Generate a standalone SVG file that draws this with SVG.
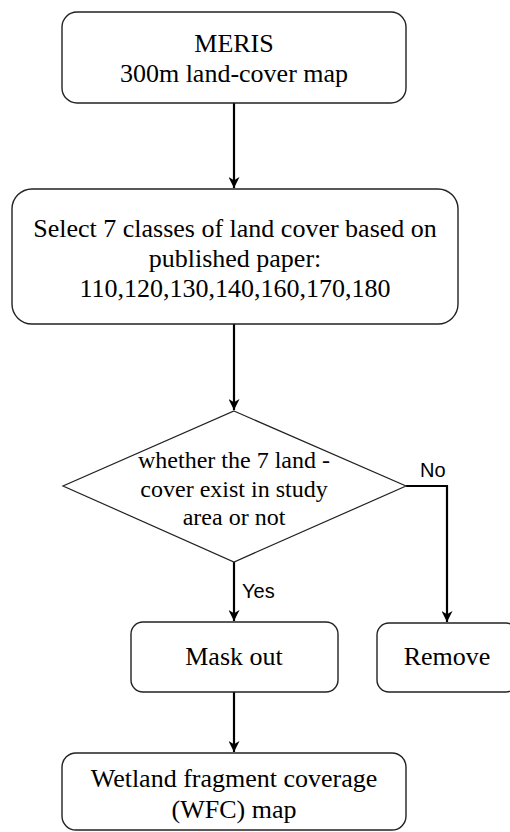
<svg xmlns="http://www.w3.org/2000/svg" width="510" height="832" viewBox="0 0 510 832">
<style>
.box{fill:#fff;stroke:#222;stroke-width:1.4}
.t{font-family:"Liberation Serif","Times New Roman",serif;font-size:26px;fill:#000;text-anchor:middle}
.td{font-family:"Liberation Serif","Times New Roman",serif;font-size:24px;fill:#000;text-anchor:middle}
.lb{font-family:"Liberation Sans",Arial,sans-serif;font-size:20px;fill:#000}
.c{fill:none;stroke:#000;stroke-width:2.2}
</style>
<defs>
<marker id="ah" viewBox="0 0 10 10" refX="10" refY="5" markerWidth="5" markerHeight="5" markerUnits="strokeWidth" orient="auto">
<path d="M0,0 L10,5 L0,10 L3,5 Z" fill="#000"/>
</marker>
</defs>
<rect width="510" height="832" fill="#fff"/>
<g id="connectors">
<line class="c" x1="234" y1="103" x2="234" y2="188" marker-end="url(#ah)"/>
<line class="c" x1="234" y1="324" x2="234" y2="410" marker-end="url(#ah)"/>
<polyline class="c" points="406,486 447,486 447,622" marker-end="url(#ah)"/>
<line class="c" x1="234" y1="562" x2="234" y2="621" marker-end="url(#ah)"/>
<line class="c" x1="234" y1="692" x2="234" y2="752" marker-end="url(#ah)"/>
<text class="lb" x="420" y="477">No</text>
<text class="lb" x="242" y="598">Yes</text>
</g>
<g id="meris">
<rect class="box" x="62" y="12" width="344" height="91" rx="15"/>
<text class="t" x="234" y="52">MERIS</text>
<text class="t" x="234" y="82">300m land-cover map</text>
</g>
<g id="select">
<rect class="box" x="12" y="189" width="446" height="135" rx="20"/>
<text class="t" x="235" y="237">Select 7 classes of land cover based on</text>
<text class="t" x="235" y="267">published paper:</text>
<text class="t" x="235" y="297">110,120,130,140,160,170,180</text>
</g>
<g id="decision">
<polygon points="234,411 406,486 234,562 63,486" fill="#fff" stroke="#222" stroke-width="1.2"/>
<text class="td" x="234" y="468">whether the 7 land -</text>
<text class="td" x="234" y="497">cover exist in study</text>
<text class="td" x="234" y="525">area or not</text>
</g>
<g id="maskout">
<rect class="box" x="131" y="622" width="207" height="70" rx="12"/>
<text class="t" x="234" y="665">Mask out</text>
</g>
<g id="remove">
<rect class="box" x="377" y="623" width="141" height="69" rx="12"/>
<text class="t" x="447" y="665">Remove</text>
</g>
<g id="wfc">
<rect class="box" x="62" y="753" width="344" height="77" rx="14"/>
<text class="t" x="234" y="787">Wetland fragment coverage</text>
<text class="t" x="234" y="818">(WFC) map</text>
</g>
</svg>
